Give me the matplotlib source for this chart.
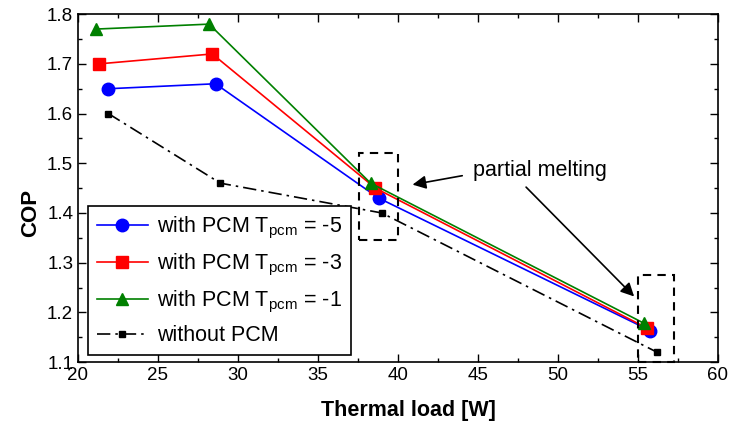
import matplotlib
matplotlib.use('Agg')
import matplotlib.pyplot as plt
from matplotlib.patches import Rectangle

plt.rcParams['font.family'] = ['Liberation Sans', 'DejaVu Sans']
plt.rcParams['mathtext.fontset'] = 'custom'
plt.rcParams['mathtext.rm'] = 'Liberation Sans'
plt.rcParams['mathtext.it'] = 'Liberation Sans:italic'

# data
load_m5 = [21.9, 28.6, 38.8, 55.8]
cop_m5 = [1.65, 1.66, 1.43, 1.163]
load_m3 = [21.3, 28.4, 38.6, 55.6]
cop_m3 = [1.70, 1.72, 1.45, 1.168]
load_m1 = [21.1, 28.2, 38.3, 55.4]
cop_m1 = [1.77, 1.78, 1.46, 1.178]
load_no = [21.9, 28.9, 39.0, 56.2]
cop_no = [1.60, 1.46, 1.40, 1.12]

labels = ['with PCM T$_\\mathrm{pcm}$ = -5',
          'with PCM T$_\\mathrm{pcm}$ = -3',
          'with PCM T$_\\mathrm{pcm}$ = -1',
          'without PCM']

fig = plt.figure(figsize=(7.31, 4.30), dpi=100)
ax = fig.add_axes([0.1067, 0.158, 0.875, 0.809])

ax.plot(load_m5, cop_m5, '-o', color='blue', lw=1.2, ms=9, label=labels[0])
ax.plot(load_m3, cop_m3, '-s', color='red', lw=1.2, ms=8.5, label=labels[1])
ax.plot(load_m1, cop_m1, '-^', color='green', lw=1.2, ms=9, label=labels[2])
ax.plot(load_no, cop_no, color='black', lw=1.2, marker='s', ms=5,
        dashes=[8, 3, 1.5, 3], label=labels[3])

# dashed boxes marking partial melting
for x0, y0, w, h in [(37.6, 1.345, 2.4, 0.175), (55.0, 1.10, 2.3, 0.175)]:
    ax.add_patch(Rectangle((x0, y0), w, h, fill=False, ls=(0, (4, 3)),
                           lw=1.5, ec='black', clip_on=False, zorder=5))

ax.text(48.9, 1.486, 'partial melting', fontsize=15.5, ha='center', va='center')
ax.annotate('', xy=(40.75, 1.456), xytext=(44.2, 1.476),
            arrowprops=dict(arrowstyle='-|>', color='black', lw=1.2,
                            mutation_scale=20))
ax.annotate('', xy=(54.9, 1.228), xytext=(47.9, 1.456),
            arrowprops=dict(arrowstyle='-|>', color='black', lw=1.2,
                            mutation_scale=20))

ax.set_xlim(20, 60)
ax.set_ylim(1.1, 1.8)
ax.set_xticks(range(20, 61, 5))
ax.set_xticks([x + 2.5 for x in range(20, 60, 5)], minor=True)
ax.set_yticks([1.1, 1.2, 1.3, 1.4, 1.5, 1.6, 1.7, 1.8])
ax.set_yticks([1.15, 1.25, 1.35, 1.45, 1.55, 1.65, 1.75], minor=True)
ax.tick_params(direction='in', which='both', top=True, right=True,
               labelsize=13.5, length=6, width=1)
ax.tick_params(which='minor', length=3)
ax.set_xlabel('Thermal load [W]', fontsize=15.5, fontweight='bold')
ax.set_ylabel('COP', fontsize=16, fontweight='bold')
ax.xaxis.set_label_coords(0.516, -0.11)
ax.yaxis.set_label_coords(-0.057, 0.43)
for s in ax.spines.values():
    s.set_linewidth(1.2)

leg = ax.legend(loc='lower left', bbox_to_anchor=(0.0156, 0.02),
                borderaxespad=0, fontsize=15.5, frameon=True, fancybox=False,
                edgecolor='black', handlelength=2.4, handletextpad=0.4,
                labelspacing=0.5, borderpad=0.4, framealpha=1)
leg.get_frame().set_linewidth(1.2)

fig.savefig('out.png', dpi=100)
